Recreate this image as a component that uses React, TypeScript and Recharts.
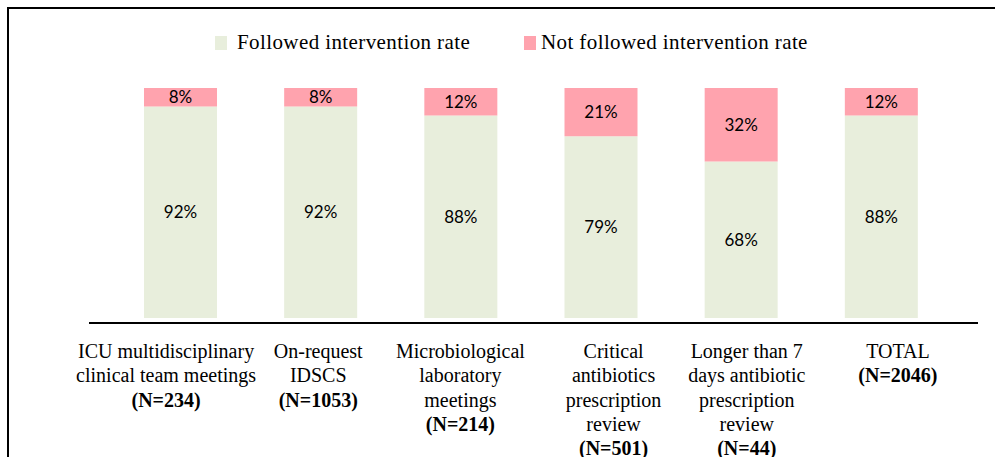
import React from 'react';
import { BarChart, Bar, XAxis, YAxis, LabelList } from 'recharts';

const categoryLines = [
  ['ICU multidisciplinary', 'clinical team meetings'],
  ['On-request', 'IDSCS'],
  ['Microbiological', 'laboratory', 'meetings'],
  ['Critical', 'antibiotics', 'prescription', 'review'],
  ['Longer than 7', 'days antibiotic', 'prescription', 'review'],
  ['TOTAL'],
];
const sampleSizes = ['(N=234)', '(N=1053)', '(N=214)', '(N=501)', '(N=44)', '(N=2046)'];
const followedRate = [92, 92, 88, 79, 68, 88];
const notFollowedRate = [8, 8, 12, 21, 32, 12];

const seriesNames = ['Followed intervention rate', 'Not followed intervention rate'];
const seriesColors = ['#E8EEDC', '#FFA3AE'];

const data = categoryLines.map((lines, i) => ({
  name: i,
  followed: followedRate[i],
  notFollowed: notFollowedRate[i],
}));

// labels in the original sit a little off the bar centres
const labelShift = [-14, -2, 0, 13, 6, 17];
const legendLeft = [215, 524];

const SERIF = '"Liberation Serif", "Times New Roman", serif';

const CategoryTick = (props: any) => {
  const { x, y, payload } = props;
  const i = payload.value as number;
  const lines = categoryLines[i];
  const cx = x + labelShift[i];
  return (
    <text x={cx} y={y + 32} textAnchor="middle" fontFamily={SERIF} fontSize={20} fill="#000">
      {lines.map((l, k) => (
        <tspan key={k} x={cx} dy={k === 0 ? 0 : 24.3}>{l}</tspan>
      ))}
      <tspan x={cx} dy={24.3} fontWeight="bold">{sampleSizes[i]}</tspan>
    </text>
  );
};

const pct = (v: any) => `${v}%`;

export default function App() {
  return (
    <div style={{ position: 'absolute', left: 0, top: 0, width: 995, height: 457, background: '#fff', overflow: 'hidden' }}>
      <div style={{ position: 'absolute', left: 7, top: 7, width: 1000, height: 460, borderLeft: '2px solid #000', borderTop: '2px solid #000' }} />
      {seriesNames.map((n, i) => (
        <div key={n} style={{ position: 'absolute', left: legendLeft[i], top: 30, display: 'flex', alignItems: 'center', fontFamily: SERIF, fontSize: 21, letterSpacing: 0.4, whiteSpace: 'nowrap' }}>
          <span style={{ width: 12, height: 14, background: seriesColors[i], display: 'inline-block', marginRight: i === 0 ? 10 : 5 }} />
          <span>{n}</span>
        </div>
      ))}
      <div style={{ position: 'absolute', left: 89, top: 322, width: 889, height: 2, background: '#000' }} />
      <div style={{ position: 'absolute', left: 0, top: 0 }}>
        <BarChart width={995} height={457} data={data} margin={{ top: 88, right: 44, left: 110, bottom: 0 }}>
          <YAxis hide domain={[0, 100]} />
          <XAxis dataKey="name" interval={0} height={139} tickLine={false} axisLine={false} tick={<CategoryTick />} />
          <Bar dataKey="followed" stackId="a" fill={seriesColors[0]} barSize={73} isAnimationActive={false}>
            <LabelList dataKey="followed" position="center" formatter={pct} fill="#000" fontFamily="Lato, sans-serif" fontSize={17} />
          </Bar>
          <Bar dataKey="notFollowed" stackId="a" fill={seriesColors[1]} barSize={73} isAnimationActive={false}>
            <LabelList dataKey="notFollowed" position="center" formatter={pct} fill="#000" fontFamily="Lato, sans-serif" fontSize={17} />
          </Bar>
        </BarChart>
      </div>
    </div>
  );
}
